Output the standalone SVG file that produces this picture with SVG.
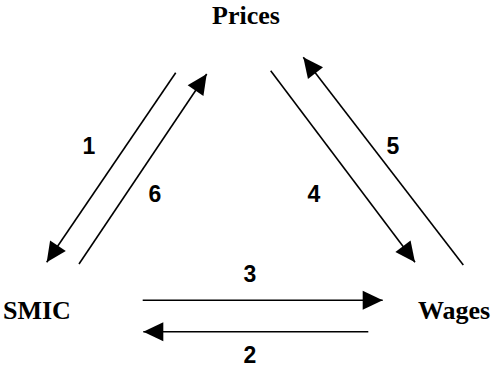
<svg xmlns="http://www.w3.org/2000/svg" width="493" height="369" viewBox="0 0 493 369">
<style>
.node{font-family:"Liberation Serif","Times New Roman",serif;font-weight:bold;font-size:26px;fill:#000}
.num{font-family:"Liberation Sans",Arial,sans-serif;font-weight:bold;font-size:23px;fill:#000;text-anchor:middle}
.c line{stroke:#000;stroke-width:1.6;fill:none}
</style>
<defs>
<marker id="ah" markerUnits="userSpaceOnUse" markerWidth="21" markerHeight="20" refX="20" refY="9.5" orient="auto" overflow="visible">
<path d="M0,0 L20,9.5 L0,19 z" fill="#000"/>
</marker>
</defs>
<rect width="493" height="369" fill="#fff"/>
<g id="prices"><text class="node" x="246" y="23.5" text-anchor="middle">Prices</text></g>
<g id="smic"><text class="node" x="3" y="319">SMIC</text></g>
<g id="wages"><text class="node" x="418" y="319">Wages</text></g>
<g id="connectors" class="c">
<line x1="175.7" y1="72.7" x2="46.7" y2="262.3" marker-end="url(#ah)"/>
<line x1="79" y1="264" x2="206.7" y2="74" marker-end="url(#ah)"/>
<line x1="270.7" y1="70.7" x2="415" y2="262.3" marker-end="url(#ah)"/>
<line x1="463.3" y1="265" x2="303.3" y2="57.3" marker-end="url(#ah)"/>
<line x1="142.7" y1="300.3" x2="382.7" y2="300.3" marker-end="url(#ah)"/>
<line x1="368.3" y1="331.7" x2="143.3" y2="331.7" marker-end="url(#ah)"/>
</g>
<g id="labels">
<text class="num" x="89" y="153.5">1</text>
<text class="num" x="155" y="201.5">6</text>
<text class="num" x="314" y="201.5">4</text>
<text class="num" x="393" y="153.5">5</text>
<text class="num" x="250" y="282">3</text>
<text class="num" x="250" y="363">2</text>
</g>
</svg>
